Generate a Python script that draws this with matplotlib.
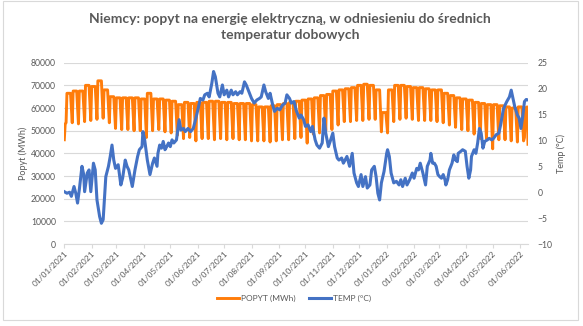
import numpy as np
import matplotlib
matplotlib.use('Agg')
import matplotlib.pyplot as plt
import matplotlib.dates as mdates
from matplotlib.patches import Rectangle

# ---------------- data ----------------
start_date = np.datetime64('2021-01-01')
end_day = 525

# electricity demand (MWh): first days of 2021, then per week (Mon-Fri level, Sunday low)
demand_first_days = [0, 1, 2]
demand_first_vals = [46000, 53000, 53500]
week_peak = [66500, 67500, 67500, 70000, 69500, 72000, 68000, 65000, 64500, 64500,
             64500, 64500, 64000, 66500, 64000, 64000, 63500, 63000, 61500, 62500,
             62000, 62500, 62500, 63000, 63000, 62500, 62500, 62000, 62000, 62000,
             61500, 60500, 60500, 61000, 61500, 62000, 62500, 63000, 63500, 64000,
             64500, 65500, 66000, 67500, 68000, 68500, 69000, 70000, 70500, 70000,
             68000, 58000, 68000, 70000, 70000, 69500, 69000, 69000, 68500, 68000,
             68000, 66500, 65500, 64500, 64000, 63500, 62500, 62000, 61500, 61500,
             61000, 60500, 60000, 60500]
week_trough = [53500, 53000, 54000, 54500, 55000, 55500, 53500, 51000, 50500, 50500,
               50000, 50000, 47000, 50000, 50500, 49500, 49000, 48000, 46500, 47000,
               45500, 46500, 46500, 46000, 46500, 46000, 46500, 46000, 46000, 45500,
               45500, 45500, 45000, 45500, 46000, 46000, 46500, 47000, 44500, 48500,
               49000, 50000, 50500, 52500, 54000, 54000, 54500, 54500, 55000, 55000,
               49500, 49000, 54000, 55000, 55500, 55000, 54500, 54500, 54500, 54000,
               53500, 52500, 51500, 50500, 50000, 48500, 46500, 46500, 42000, 46000,
               46000, 45500, 45000, 45500]
demand_last_days = [521, 522, 524, 525]
demand_last_vals = [47000, 60000, 60500, 44000]

# daily mean temperature (°C)
temp_days = [0, 3, 6, 8, 11, 13, 15, 17, 20, 22, 23, 26, 28, 30, 33, 35, 37, 40, 42, 44,
             47, 50, 52, 54, 56, 58, 61, 64, 66, 69, 71, 73, 75, 77, 80, 83, 85, 88, 89, 91,
             94, 97, 100, 102, 105, 106, 108, 110, 112, 114, 116, 118, 120, 122, 124, 127,
             130, 132, 135, 137, 140, 143, 146, 149, 152, 154, 157, 159, 162, 164, 167, 169,
             171, 174, 176, 179, 181, 184, 186, 189, 191, 194, 196, 199, 201, 204, 206, 209,
             212, 215, 218, 221, 223, 226, 228, 231, 233, 236, 238, 241, 244, 247, 250, 252,
             255, 257, 260, 263, 266, 268, 271, 273, 276, 279, 281, 284, 286, 289, 292, 294,
             296, 299, 301, 304, 306, 309, 311, 314, 316, 320, 323, 326, 328, 331, 333, 336,
             338, 341, 343, 346, 348, 351, 353, 355, 357, 359, 362, 365, 366, 368, 370, 373,
             376, 379, 381, 383, 386, 388, 391, 394, 396, 399, 401, 403, 406, 409, 411, 414,
             415, 417, 419, 421, 423, 425, 427, 429, 431, 432, 434, 436, 439, 441, 443, 445,
             446, 449, 451, 454, 456, 458, 460, 461, 464, 466, 468, 470, 472, 474, 476, 479,
             481, 484, 486, 489, 492, 494, 497, 499, 501, 504, 506, 508, 510, 513, 515, 517,
             519, 521, 523, 525]
temp_vals = [0.1, -0.2, 0.0, -0.8, 1.1, -0.2, -2.1, 0.5, 5.0, 3.4, 0.1, 3.7, 4.3, 0.1, 5.6,
             4.3, -1.5, -4.7, -6.0, -5.3, 3.0, 5.0, 6.9, 9.1, 6.2, 4.6, 5.3, 1.4, 2.7, 6.2,
             5.0, 4.3, 2.7, 1.1, 4.3, 6.9, 8.2, 8.8, 11.7, 10.1, 6.2, 3.4, 5.6, 6.6, 5.0,
             7.5, 9.1, 8.5, 9.8, 8.2, 8.8, 9.5, 8.8, 10.1, 9.5, 10.1, 14.0, 12.0, 12.3, 11.7,
             12.3, 11.7, 12.3, 14.3, 16.5, 18.1, 17.8, 18.8, 19.1, 18.4, 21.0, 23.3, 22.3,
             19.1, 18.4, 20.7, 18.8, 19.7, 18.4, 19.7, 18.8, 19.4, 18.8, 19.4, 19.1, 21.3,
             20.7, 19.4, 18.1, 17.2, 17.8, 18.1, 18.4, 20.7, 19.4, 18.1, 19.1, 16.8, 15.6,
             16.2, 15.9, 16.8, 17.2, 18.8, 18.1, 17.2, 17.5, 15.6, 14.3, 14.9, 14.0, 12.7,
             13.0, 11.7, 12.7, 10.1, 9.1, 8.5, 9.5, 14.3, 11.4, 8.8, 9.8, 11.4, 8.8, 6.6,
             6.2, 6.6, 5.6, 6.9, 5.0, 7.5, 3.7, 1.8, 1.1, 3.4, 1.1, 3.0, 0.8, 1.4, 4.3, 5.0,
             3.0, -0.2, -1.5, 1.8, 4.0, 7.5, 8.2, 6.9, 3.7, 1.8, 2.1, 1.4, 2.4, 1.1, 2.7,
             1.4, 2.4, 3.7, 2.7, 4.6, 4.3, 5.6, 3.7, 1.4, 5.0, 6.2, 7.5, 5.6, 5.6, 5.0, 3.4,
             3.0, 2.7, 3.4, 2.4, 1.4, 2.4, 4.3, 5.6, 7.2, 6.2, 5.9, 7.5, 7.9, 8.2, 7.9, 5.0,
             2.7, 4.3, 6.9, 8.2, 7.5, 9.5, 12.3, 11.4, 8.5, 9.8, 10.1, 10.4, 10.1, 10.4,
             11.1, 11.4, 13.0, 15.9, 16.8, 17.5, 18.4, 19.7, 18.1, 16.5, 14.9, 14.3, 12.3,
             14.6, 17.5, 17.9, 17.8]

title = "Niemcy: popyt na energię elektryczną, w odniesieniu do średnich\ntemperatur dobowych"
left_ticks = [0, 10000, 20000, 30000, 40000, 50000, 60000, 70000, 80000]
right_ticks = [-10, -5, 0, 5, 10, 15, 20, 25]

# ---------------- build series ----------------
d_days = list(demand_first_days)
d_vals = list(demand_first_vals)
for k, (pk, tr) in enumerate(zip(week_peak, week_trough)):
    mon = 3 + 7 * k
    d_days += [mon, mon + 4, mon + 6]
    d_vals += [pk, pk, tr]
d_days += demand_last_days
d_vals += demand_last_vals

d_dates = start_date + np.array(d_days).astype('timedelta64[D]')
t_dates = start_date + np.array(temp_days).astype('timedelta64[D]')

# ---------------- plot ----------------
plt.rcParams['font.family'] = ['Lato', 'DejaVu Sans']
W, H = 583, 326
fig = plt.figure(figsize=(W / 100, H / 100), dpi=100)
fig.patch.set_facecolor('white')

grey = '#595959'
orange = '#FF7C0A'
blue = '#4472C4'

ax = fig.add_axes([64.3 / W, 1 - 244 / H, (528 - 64.3) / W, (244 - 62.7) / H])
ax2 = ax.twinx()

ln1, = ax.plot(d_dates, d_vals, color=orange, lw=2.1, solid_joinstyle='round',
               label='POPYT (MWh)')
ln2, = ax2.plot(t_dates, temp_vals, color=blue, lw=2.2, solid_joinstyle='round',
                label='TEMP (°C)')

ax.set_xlim(start_date, start_date + np.timedelta64(end_day, 'D'))
ax.set_ylim(0, 80000)
ax2.set_ylim(-10, 25)
ax.set_yticks(left_ticks)
ax2.set_yticks(right_ticks)

ax.yaxis.grid(True, color='#D9D9D9', lw=0.8)
ax.set_axisbelow(True)

for a in (ax, ax2):
    for s in ('left', 'right', 'top'):
        a.spines[s].set_visible(False)
ax2.spines['bottom'].set_visible(False)
ax.spines['bottom'].set_color('#D9D9D9')
ax.spines['bottom'].set_linewidth(0.8)

ax.xaxis.set_major_locator(mdates.MonthLocator(bymonthday=1))
ax.xaxis.set_major_formatter(mdates.DateFormatter('%d/%m/%Y'))
ax.tick_params(axis='x', length=3, color='#D9D9D9', labelsize=6, labelcolor=grey, pad=1)
for lbl in ax.get_xticklabels():
    lbl.set_rotation(45)
    lbl.set_ha('right')
    lbl.set_rotation_mode('anchor')
ax.tick_params(axis='y', length=0, labelsize=6.2, labelcolor=grey, pad=6)
ax2.tick_params(axis='y', length=0, labelsize=6.2, labelcolor=grey, pad=7)

ax.set_ylabel('Popyt (MWh)', fontsize=6.5, color=grey, labelpad=2)
ax2.set_ylabel('Temp (°C)', fontsize=6.5, color=grey, rotation=90, labelpad=3)

fig.text(0.497, 1 - 27 / H, title, ha='center', va='center', fontsize=10,
         fontweight='bold', color=grey, linespacing=1.45)

fig.legend(handles=[ln1, ln2], loc='center', bbox_to_anchor=(0.505, 1 - 298 / H),
           ncol=2, frameon=False, fontsize=6, labelcolor=grey, handlelength=2.6,
           columnspacing=1.6, handletextpad=0.3)

fig.patches.append(Rectangle((3 / W, 1 - 320 / H), 575 / W, 319 / H,
                             transform=fig.transFigure, fill=False,
                             edgecolor='#D9D9D9', lw=0.8))

fig.savefig('out.png', dpi=100, facecolor='white')
